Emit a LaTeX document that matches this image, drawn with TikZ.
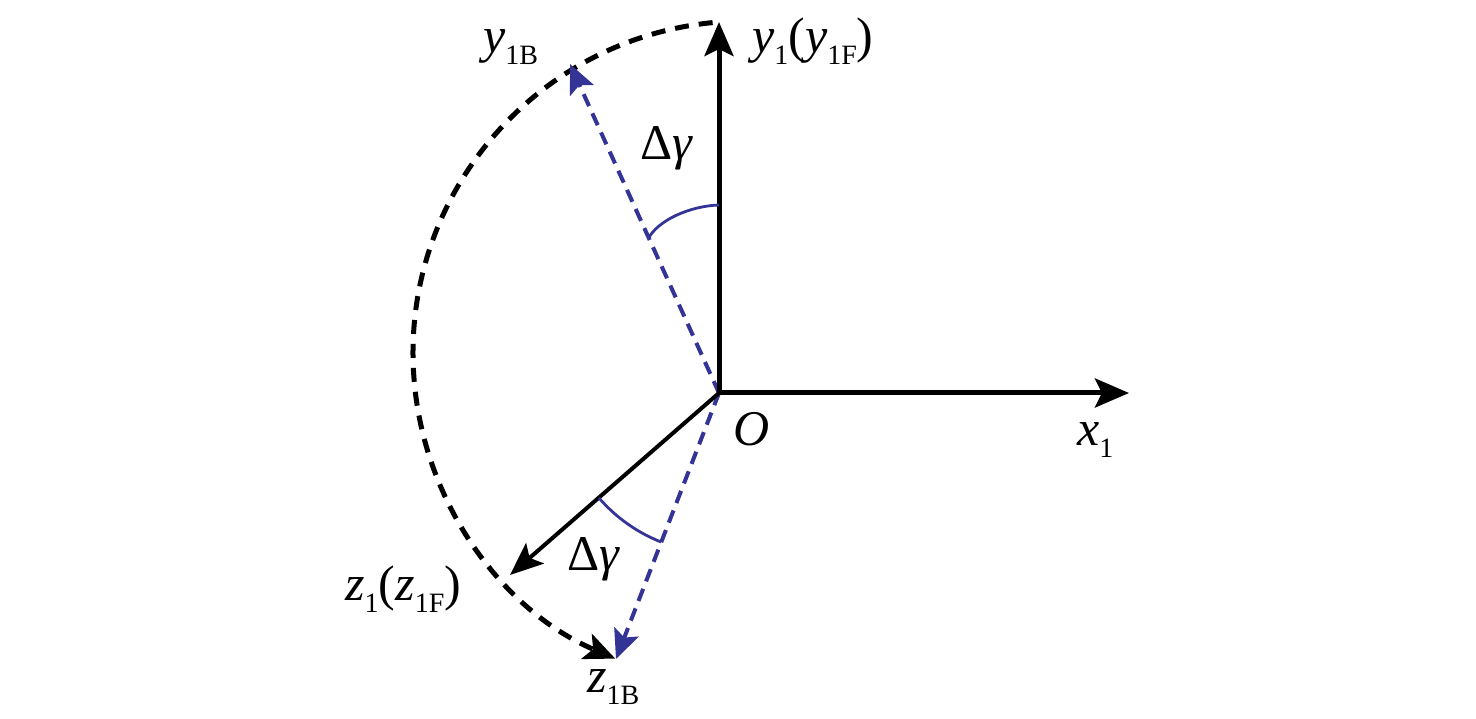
\documentclass[tikz,border=0pt]{standalone}
\usepackage{fontspec}
\setmainfont{Liberation Serif}
\usetikzlibrary{arrows.meta}
\definecolor{dblue}{RGB}{52,52,150}
\newcommand\sbs[1]{\raisebox{-0.24em}{\fontsize{28}{30}\selectfont #1}}
\begin{document}
\begin{tikzpicture}[x=1pt,y=-1pt,
  axis/.style={line width=5pt,-{Stealth[length=34pt,width=29pt,inset=7pt]}},
  zaxis/.style={line width=4pt,-{Stealth[length=33pt,width=27pt,inset=7pt]}},
  bluedash/.style={draw=dblue,line width=4pt,dash pattern=on 13pt off 8pt,-{Stealth[length=29pt,width=26pt,inset=6pt,fill=dblue]}},
  arcdash/.style={line width=5pt,dash pattern=on 14pt off 10pt,-{Stealth[length=31pt,width=27pt,inset=7pt]}},
  anglearc/.style={draw=dblue,line width=2.8pt},
  lab/.style={inner sep=0pt,anchor=base west,font=\fontsize{50}{60}\selectfont}]
\useasboundingbox (0,0) rectangle (1476,719);
\fill[white] (0,0) rectangle (1476,719);
% points
\coordinate (O) at (719,393);
\coordinate (X) at (1129,393);
\coordinate (Y) at (719,22);
\coordinate (Z) at (510,575);
\coordinate (YB) at (570,64);
\coordinate (ZB) at (616,659);
\coordinate (A) at (712.6,22.6);
% dashed arc
\draw[arcdash] (A) arc[start angle=264.4,end angle=113,radius=332];
% blue dashed lines
\draw[bluedash] (O) -- (YB);
\draw[bluedash] (O) -- (ZB);
% axes
\draw[axis] (O) -- (X);
\draw[axis] (O) -- (Y);
\draw[zaxis] (O) -- (Z);
% angle arcs
\coordinate (U1) at (719,205);
\coordinate (U2) at (648,239);
\draw[anglearc] (U1) .. controls (690,206) and (658,220) .. (U2);
\coordinate (L1) at (599,498);
\draw[anglearc] (L1) arc[start angle=139.1,end angle=111.6,radius=160];
% labels
\node[lab] (yBlab) at (483,53) {\textit{y}\sbs{1B}};
\node[lab] (ylab) at (752,53) {\textit{y}\sbs{1}(\textit{y}\sbs{1F})};
\node[lab] (dg1) at (640,160) {Δ\textit{γ}};
\node[lab] (Olab) at (733,445) {\textit{O}};
\node[lab] (xlab) at (1077,445) {\textit{x}\sbs{1}};
\node[lab] (zlab) at (345,600) {\textit{z}\sbs{1}(\textit{z}\sbs{1F})};
\node[lab] (dg2) at (567,570) {Δ\textit{γ}};
\node[lab] (zBlab) at (587,692) {\textit{z}\sbs{1B}};
\end{tikzpicture}
\end{document}
